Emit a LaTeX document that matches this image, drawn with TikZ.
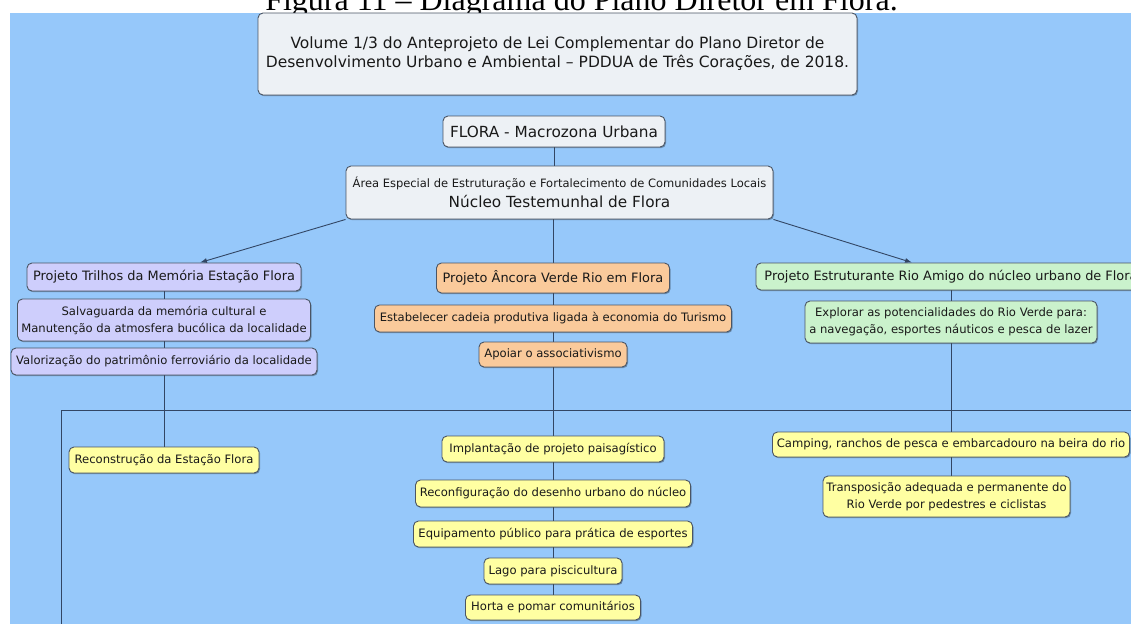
\documentclass[tikz,border=0pt]{standalone}
\usepackage{fontspec}
\newfontfamily\djsans{DejaVu Sans}
\newfontfamily\capserif{Liberation Serif}
\usetikzlibrary{shadows,arrows.meta,calc}
\pgfdeclarelayer{bg}
\pgfsetlayers{bg,main}
\definecolor{bgblue}{RGB}{150,200,250}
\definecolor{boxline}{RGB}{75,85,100}
\definecolor{connline}{RGB}{50,70,100}
\definecolor{txt}{RGB}{25,25,25}
\definecolor{lightfill}{RGB}{237,241,245}
\definecolor{purplefill}{RGB}{206,206,252}
\definecolor{orangefill}{RGB}{250,202,155}
\definecolor{greenfill}{RGB}{202,242,204}
\definecolor{yellowfill}{RGB}{255,255,162}
\tikzset{
  box/.style={draw=boxline, line width=0.9pt, rounded corners=5pt, inner sep=0pt,
    align=center, text=txt,
    drop shadow={shadow xshift=1pt, shadow yshift=-1.2pt, opacity=0.3, fill=black}},
  lbox/.style={box, fill=lightfill},
  pbox/.style={box, fill=purplefill},
  obox/.style={box, fill=orangefill},
  gbox/.style={box, fill=greenfill},
  ybox/.style={box, fill=yellowfill},
  conn/.style={draw=connline, line width=0.9pt},
  arr/.style={conn, -{Latex[length=7pt,width=5pt]}},
  bigtxt/.style={font={\djsans\fontsize{12.9}{15}\selectfont}},
  subtxt/.style={font={\djsans\fontsize{11.6}{17}\selectfont}},
}
\begin{document}
\begin{tikzpicture}[x=1pt,y=-1pt]
\useasboundingbox (0,0) rectangle (1131,624);
% ---- nodes ----
\node[lbox, minimum width=599pt, minimum height=82pt,
  font={\djsans\fontsize{15.5}{19}\selectfont}] (vol) at (557.5,54)
  {Volume 1/3 do Anteprojeto de Lei Complementar do Plano Diretor de\\
   Desenvolvimento Urbano e Ambiental – PDDUA de Três Corações, de 2018.};
\node[lbox, minimum width=222pt, minimum height=31pt,
  font={\djsans\fontsize{15.3}{18}\selectfont}] (flora) at (554,131.5)
  {FLORA - Macrozona Urbana};
\node[lbox, minimum width=427pt, minimum height=53pt,
  font={\djsans\fontsize{11.5}{13}\selectfont}] (area) at (559.5,192.5)
  {Área Especial de Estruturação e Fortalecimento de Comunidades Locais\\[4pt]
   {\fontsize{15.3}{18}\selectfont Núcleo Testemunhal de Flora}};
% left column
\node[pbox, bigtxt, minimum width=274pt, minimum height=28pt] (tril) at (164,277)
  {Projeto Trilhos da Memória Estação Flora};
\node[pbox, subtxt, minimum width=293pt, minimum height=42pt] (salv) at (164,320)
  {Salvaguarda da memória cultural e\\Manutenção da atmosfera bucólica da localidade};
\node[pbox, subtxt, minimum width=306pt, minimum height=27pt] (valo) at (164,361.5)
  {Valorização do patrimônio ferroviário da localidade};
\node[ybox, subtxt, minimum width=190pt, minimum height=26pt] (reco) at (164,460)
  {Reconstrução da Estação Flora};
% center column
\node[obox, bigtxt, minimum width=233pt, minimum height=30pt] (anc) at (553,278)
  {Projeto Âncora Verde Rio em Flora};
\node[obox, subtxt, minimum width=357pt, minimum height=27pt] (esta) at (553,318.5)
  {Estabelecer cadeia produtiva ligada à economia do Turismo};
\node[obox, subtxt, minimum width=148pt, minimum height=25pt] (apo) at (553,354.5)
  {Apoiar o associativismo};
\node[ybox, subtxt, minimum width=222pt, minimum height=26pt] (impl) at (553,449)
  {Implantação de projeto paisagístico};
\node[ybox, subtxt, minimum width=275pt, minimum height=27pt] (reconf) at (553,493.5)
  {Reconfiguração do desenho urbano do núcleo};
\node[ybox, subtxt, minimum width=279pt, minimum height=26pt] (equi) at (553,534)
  {Equipamento público para prática de esportes};
\node[ybox, subtxt, minimum width=138pt, minimum height=26pt] (lago) at (553,571)
  {Lago para piscicultura};
\node[ybox, subtxt, minimum width=175pt, minimum height=25pt] (horta) at (553,607.5)
  {Horta e pomar comunitários};
% right column
\node[gbox, bigtxt, minimum width=390pt, minimum height=27pt] (estr) at (951,276.5)
  {Projeto Estruturante Rio Amigo do núcleo urbano de Flora};
\node[gbox, subtxt, minimum width=292pt, minimum height=42pt] (expl) at (951,322)
  {Explorar as potencialidades do Rio Verde para:\\a navegação, esportes náuticos e pesca de lazer};
\node[ybox, subtxt, minimum width=357pt, minimum height=25pt] (camp) at (951,444.5)
  {Camping, ranchos de pesca e embarcadouro na beira do rio};
\node[ybox, subtxt, minimum width=247pt, minimum height=41pt] (tran) at (946.5,496.5)
  {Transposição adequada e permanente do\\Rio Verde por pedestres e ciclistas};
% free ends of the long bar
\coordinate (hl) at (61,410);
\coordinate (hr) at (1131,410);
\coordinate (hb) at (61,624);
% ---- background and connectors ----
\begin{pgfonlayer}{bg}
  \fill[white] (0,0) rectangle (1131,624);
  \node[anchor=base, inner sep=0pt, font={\capserif\fontsize{32}{36}\selectfont}]
    (cap) at (581.5,10) {Figura 11 – Diagrama do Plano Diretor em Flora.};
  \fill[bgblue] (10,13) rectangle (1131,624);
  \draw[conn] (flora.south) -- (flora.south |- area.north);
  \draw[arr] (area.south west) -- ([xshift=36pt]tril.north);
  \draw[arr] (area.south east) -- ([xshift=-39pt]estr.north);
  \draw[conn] (anc.north |- area.south) -- (anc.north);
  \draw[conn] (tril.south) -- (tril.south |- salv.north);
  \draw[conn] (salv.south) -- (salv.south |- valo.north);
  \draw[conn] (valo.south) -- (valo.south |- reco.north);
  \draw[conn] (anc.south) -- (anc.south |- esta.north);
  \draw[conn] (esta.south) -- (esta.south |- apo.north);
  \draw[conn] (apo.south) -- (apo.south |- impl.north);
  \draw[conn] (impl.south) -- (impl.south |- reconf.north);
  \draw[conn] (reconf.south) -- (reconf.south |- equi.north);
  \draw[conn] (equi.south) -- (equi.south |- lago.north);
  \draw[conn] (lago.south) -- (lago.south |- horta.north);
  \draw[conn] (estr.south) -- (estr.south |- expl.north);
  \draw[conn] (expl.south) -- (expl.south |- camp.north);
  \draw[conn] (camp.south) -- (camp.south |- tran.north);
  \draw[conn] (hr) -- (hl) -- (hb);
\end{pgfonlayer}
\end{tikzpicture}
\end{document}
